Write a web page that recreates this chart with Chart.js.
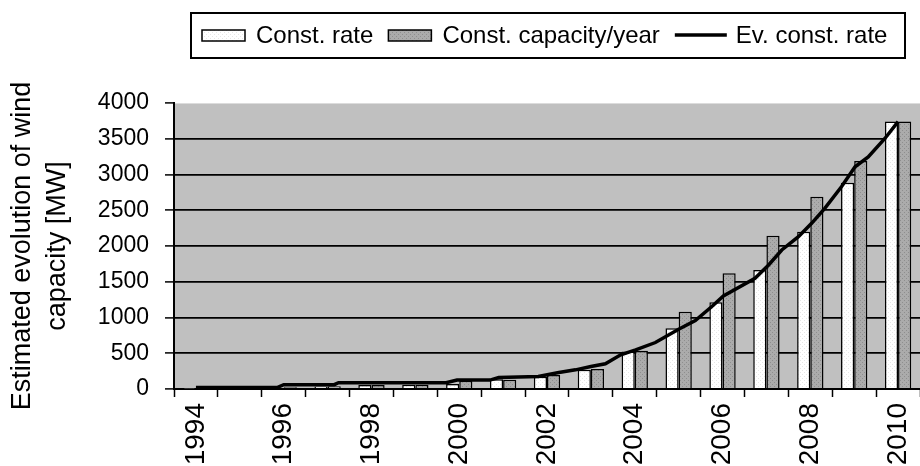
<!DOCTYPE html>
<html>
<head>
<meta charset="utf-8">
<script src="https://cdn.jsdelivr.net/npm/chart.js@4"></script>
<style>
  html, body { margin: 0; background: #fff; }
</style>
</head>
<body>
<canvas id="windChart" width="920" height="466"></canvas>
<script>
const years = ['1994', '1995', '1996', '1997', '1998', '1999', '2000', '2001', '2002',
               '2003', '2004', '2005', '2006', '2007', '2008', '2009', '2010'];
const constRate = [5, 8, 15, 35, 55, 60, 70, 135, 170, 270, 525, 850, 1215, 1665, 2200, 2885, 3740];
const constCapacity = [8, 12, 25, 40, 55, 60, 115, 130, 195, 280, 535, 1080, 1620, 2145, 2690, 3190, 3740];
// evolving rate curve, read at fractional years
const evYear = [1994, 1995.85, 1996.0, 1997.15, 1997.25, 1999.7, 1999.95, 2000.7, 2000.9, 2001.8,
                2002.27, 2002.65, 2003.0, 2003.33, 2003.68, 2004.02, 2004.47, 2005.0, 2005.38, 2005.75,
                2006.02, 2006.74, 2007.05, 2007.35, 2007.73, 2008.03, 2008.33, 2008.71, 2009.02, 2009.32,
                2009.7, 2010.0];
const evValue = [20, 20, 60, 60, 88, 88, 125, 125, 160, 175,
                 230, 268, 314, 352, 478, 548, 650, 835, 957, 1150,
                 1302, 1549, 1735, 1944, 2130, 2317, 2526, 2828, 3108, 3247,
                 3504, 3740];

const FONT = '"Liberation Sans", Arial, sans-serif';
const canvas = document.getElementById('windChart');
const ctx = canvas.getContext('2d');

function dotted(base, dot) {
    const c = document.createElement('canvas');
    c.width = 4; c.height = 4;
    const g = c.getContext('2d');
    g.fillStyle = base;
    g.fillRect(0, 0, 4, 4);
    g.fillStyle = dot;
    g.fillRect(0, 0, 1, 1);
    g.fillRect(2, 2, 1, 1);
    return ctx.createPattern(c, 'repeat');
}

const whiteFill = dotted('#ffffff', '#e6e6e6');
const grayFill = dotted('#ababab', '#8e8e8e');

const plotBg = {
    id: 'plotBg',
    beforeDraw(chart) {
        const a = chart.chartArea;
        chart.ctx.save();
        chart.ctx.fillStyle = '#c0c0c0';
        chart.ctx.fillRect(a.left, a.top, a.right - a.left, a.bottom - a.top);
        chart.ctx.strokeStyle = '#dcdcdc';
        chart.ctx.lineWidth = 1;
        chart.ctx.beginPath();
        chart.ctx.moveTo(a.left, a.top + 0.5);
        chart.ctx.lineTo(a.right, a.top + 0.5);
        chart.ctx.stroke();
        chart.ctx.restore();
    }
};

const boxLegend = {
    id: 'boxLegend',
    afterDraw(chart) {
        const g = chart.ctx;
        g.save();
        g.fillStyle = '#fff';
        g.strokeStyle = '#000';
        g.lineWidth = 2;
        g.fillRect(191, 13, 714, 45);
        g.strokeRect(191, 13, 714, 45);
        g.font = '24px ' + FONT;
        g.textBaseline = 'middle';
        const cy = 36;
        let x = 202;
        chart.data.datasets.forEach(ds => {
            if (ds.type === 'line') {
                g.strokeStyle = '#000';
                g.lineWidth = 3.5;
                g.beginPath();
                g.moveTo(x, cy - 1);
                g.lineTo(x + 52, cy - 1);
                g.stroke();
                x += 52 + 9;
            } else {
                g.fillStyle = ds.backgroundColor;
                g.fillRect(x, cy - 6, 43, 11);
                g.strokeStyle = '#000';
                g.lineWidth = 1.5;
                g.strokeRect(x, cy - 6, 43, 11);
                x += 43 + 11;
            }
            g.fillStyle = '#000';
            g.fillText(ds.label, x, cy);
            x += g.measureText(ds.label).width + 15;
        });
        g.restore();
    }
};

// bars and curve share one hidden linear year axis; the visible axis is a category axis
const yearNums = years.map(Number);

new Chart(ctx, {
    type: 'bar',
    data: {
        labels: years,
        datasets: [
            {
                label: 'Const. rate',
                data: yearNums.map((yr, i) => ({ x: yr, y: constRate[i] })),
                backgroundColor: whiteFill,
                borderColor: '#000',
                borderWidth: 1.5,
                order: 2
            },
            {
                label: 'Const. capacity/year',
                data: yearNums.map((yr, i) => ({ x: yr, y: constCapacity[i] })),
                backgroundColor: grayFill,
                borderColor: '#000',
                borderWidth: 1.5,
                order: 2
            },
            {
                type: 'line',
                label: 'Ev. const. rate',
                data: evYear.map((yr, i) => ({ x: yr, y: evValue[i] })),
                borderColor: '#000',
                borderWidth: 3.5,
                pointRadius: 0,
                tension: 0,
                fill: false,
                order: 0
            }
        ]
    },
    options: {
        responsive: false,
        animation: false,
        events: [],
        layout: { padding: { top: 103, left: 0, right: 0, bottom: 0 } },
        datasets: {
            bar: { categoryPercentage: 0.6, barPercentage: 1.0 }
        },
        plugins: {
            legend: { display: false },
            tooltip: { enabled: false }
        },
        scales: {
            x: {
                type: 'linear',
                display: false,
                offset: false,
                grid: { offset: false },
                min: 1993.5,
                max: 2010.5,
                afterBuildTicks: s => { s.ticks = yearNums.map(v => ({ value: v })); }
            },
            xc: {
                type: 'category',
                position: 'bottom',
                offset: true,
                grid: {
                    offset: true,
                    drawOnChartArea: false,
                    drawTicks: true,
                    tickLength: 8,
                    tickColor: '#000',
                    tickWidth: 1.5
                },
                border: { color: '#000', width: 2 },
                ticks: {
                    autoSkip: false,
                    minRotation: 90,
                    maxRotation: 90,
                    padding: 6,
                    color: '#000',
                    font: { size: 28, family: FONT },
                    callback: function (value, index) {
                        return index % 2 ? '' : this.getLabelForValue(value);
                    }
                },
                afterFit: s => { s.height = 77; s.paddingLeft = 0; s.paddingRight = 0; }
            },
            y: {
                min: 0,
                max: 4000,
                ticks: {
                    stepSize: 500,
                    padding: 16,
                    color: '#000',
                    font: { size: 23, family: FONT },
                    callback: v => String(v)
                },
                grid: {
                    color: c => (c.tick && c.tick.value === 4000) ? 'rgba(0,0,0,0)' : '#000',
                    lineWidth: 1.8,
                    drawTicks: true,
                    tickLength: 9,
                    tickColor: '#000',
                    tickWidth: 1.5
                },
                border: { color: '#000', width: 2 },
                title: {
                    display: true,
                    text: ['Estimated evolution of wind', 'capacity [MW]'],
                    color: '#000',
                    font: { size: 27, family: FONT, lineHeight: 1.3 },
                    padding: { top: 5, bottom: 0 }
                },
                afterFit: s => { s.width = 174; }
            }
        }
    },
    plugins: [plotBg, boxLegend]
});
</script>
</body>
</html>
